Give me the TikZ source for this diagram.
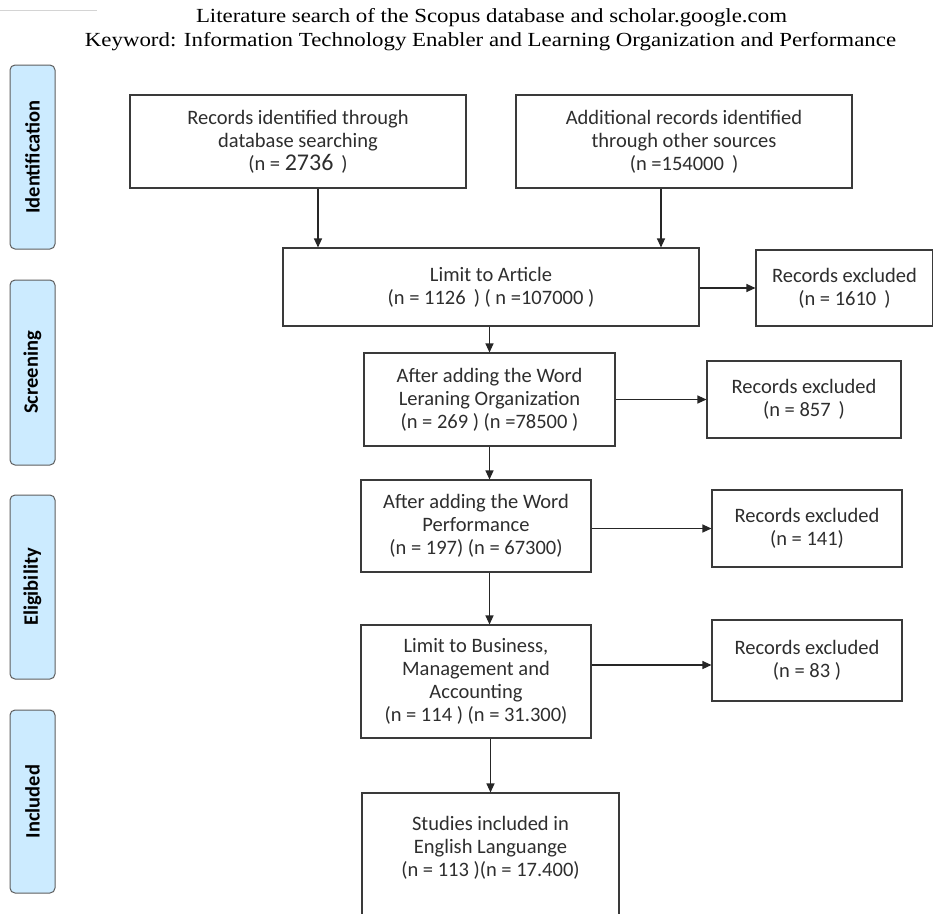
\documentclass[tikz,border=0pt]{standalone}
\usepackage{fontspec}
\setmainfont{Carlito}
\newfontfamily\titlefont{Liberation Serif}
\usetikzlibrary{arrows.meta}
\definecolor{boxline}{HTML}{3A3A3A}
\definecolor{txt}{HTML}{2E2E2E}
\definecolor{sidefill}{HTML}{CCEBFF}
\definecolor{sideline}{HTML}{5E5E5E}
\definecolor{rulegray}{HTML}{D4D4D4}
\begin{document}
\begin{tikzpicture}[x=1pt,y=-1pt,
  box/.style={draw=boxline, line width=1.1pt, fill=white, align=center, text=txt,
    font=\fontsize{20.5}{23}\selectfont, inner sep=0pt},
  side/.style={draw=sideline, line width=1pt, fill=sidefill, rounded corners=5pt,
    rotate=90, minimum height=45pt, inner sep=0pt, text=black,
    font=\fontsize{20.5}{22}\selectfont\bfseries},
  arr/.style={draw=black!85, line width=1.1pt, -{Triangle[length=9pt,width=8pt]}},
  ttl/.style={font=\titlefont\fontsize{20}{22}\selectfont, text=black, inner sep=0pt}
]
\clip (0,0) rectangle (933,913);
\fill[white] (0,0) rectangle (933,913);
\draw[rulegray, line width=1pt] (0,10) -- (97,10);

% title
\node[ttl] (t1) at (491.5,18) {\scalebox{1.143}[1]{Literature search of the Scopus database and scholar.google.com}};
\node[ttl] (t2) at (490.5,42) {\scalebox{1.143}[1]{Keyword: Information Technology Enabler and Learning Organization and Performance}};

% side labels
\node[side, minimum width=184pt] (sid) at (32.5,157) {Identification};
\node[side, minimum width=185pt] (sscr) at (32.5,372.5) {Screening};
\node[side, minimum width=184pt] (selig) at (32.5,587) {Eligibility};
\node[side, minimum width=183pt] (sinc) at (32.5,801.5) {Included};

% boxes
\node[box, minimum width=336pt, minimum height=93pt] (A) at (298,141.5)
  {Records identified through\\database searching\\(n = {\fontsize{24}{23}\selectfont 2736} \,)};
\node[box, minimum width=336pt, minimum height=93pt] (B) at (684,141.5)
  {Additional records identified\\through other sources\\(n =154000\ \,)};
\node[box, minimum width=416pt, minimum height=78pt] (C) at (491,287)
  {Limit to Article\\(n = 1126\ \,) ( n =107000 )};
\node[box, minimum width=177pt, minimum height=76pt] (D) at (844.5,288)
  {Records excluded\\(n = 1610\ \,)};
\node[box, minimum width=251pt, minimum height=93pt] (E) at (489.5,399.5)
  {After adding the Word\\Leraning Organization\\(n = 269 ) (n =78500 )};
\node[box, minimum width=194pt, minimum height=77pt] (F) at (804,399.5)
  {Records excluded\\(n = 857\ \,)};
\node[box, minimum width=230pt, minimum height=92pt] (G) at (476,526)
  {After adding the Word\\Performance\\(n = 197) (n = 67300)};
\node[box, minimum width=190pt, minimum height=77pt] (H) at (807,528.5)
  {Records excluded\\(n = 141)};
\node[box, minimum width=230pt, minimum height=113pt] (I) at (476,681.5)
  {Limit to Business,\\Management and\\Accounting\\(n = 114 ) (n = 31.300)};
\node[box, minimum width=190pt, minimum height=81pt] (J) at (807,660.5)
  {Records excluded\\(n = 83 )};
\node[box, minimum width=257pt, minimum height=130pt] (K) at (490.5,858)
  {Studies included in\\English Languange\\(n = 113 )(n = 17.400)\\\mbox{}};

% connectors
\draw[arr] ([xshift=20pt]A.south) -- ([xshift=20pt]A.south |- C.north);
\draw[arr] ([xshift=-23pt]B.south) -- ([xshift=-23pt]B.south |- C.north);
\draw[arr] (C.east |- D) -- (D.west);
\draw[arr] (C.south -| E) -- (E.north);
\draw[arr] (E.east) -- (E.east -| F.west);
\draw[arr] (E.south) -- (E.south |- G.north);
\draw[arr] (G.east |- H) -- (H.west);
\draw[arr] (G.south -| E) -- (I.north -| E);
\draw[arr] ([yshift=-4.5pt]J.west -| I.east) -- ([yshift=-4.5pt]J.west);
\draw[arr] (I.south -| K) -- (K.north);
\end{tikzpicture}
\end{document}
